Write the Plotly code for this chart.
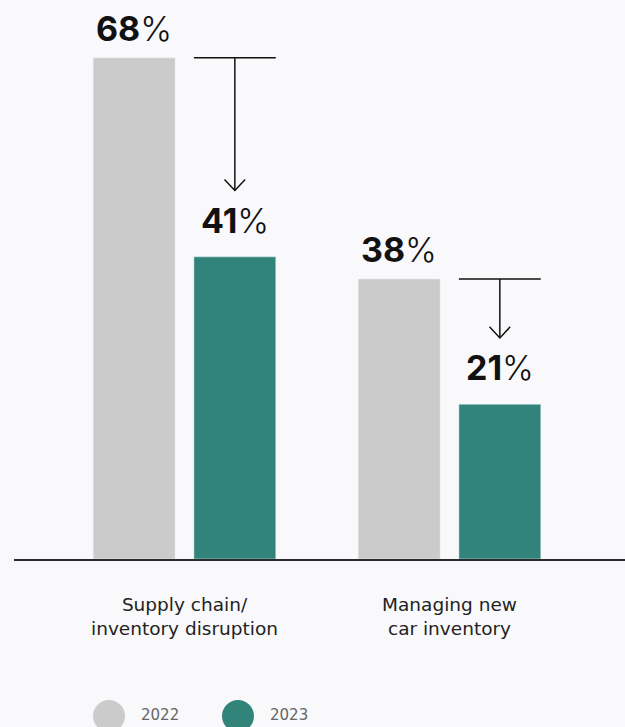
import plotly.graph_objects as go

categories = ["Supply chain/<br>inventory disruption", "Managing new<br>car inventory"]
years = ["2022", "2023"]
values_2022 = [68, 38]
values_2023 = [41, 21]

GRAY = "#cbcbcb"
TEAL = "#32837a"
FONT = "Inter"
LABEL_FONT = "DejaVu Sans"
BARGAP = 0.24
GROUPGAP = 0.187

fig = go.Figure()
fig.add_trace(go.Bar(x=categories, y=values_2022, name=years[0], marker_color=GRAY,
                     showlegend=False, hoverinfo="skip"))
fig.add_trace(go.Bar(x=categories, y=values_2023, name=years[1], marker_color=TEAL,
                     showlegend=False, hoverinfo="skip"))

off = (1 - BARGAP) / 4
hw = (1 - BARGAP) / 2 * (1 - GROUPGAP) / 2

def pct(v):
    return f"<b>{v}</b><span style='font-weight:300'>%</span>"

# value labels
for i, (a, b) in enumerate(zip(values_2022, values_2023)):
    fig.add_annotation(x=i - off, y=a, xref="x", yref="y", text=pct(a),
                       showarrow=False, yanchor="bottom", yshift=7,
                       font=dict(family=FONT, size=34, color="#111111"))
    fig.add_annotation(x=i + off, y=b, xref="x", yref="y", text=pct(b),
                       showarrow=False, yanchor="bottom", yshift=14,
                       font=dict(family=FONT, size=34, color="#111111"))
    # drop arrow
    tip = b + 9
    line = dict(color="#111111", width=1.5)
    fig.add_shape(type="line", xref="x", yref="y", x0=i + off - hw, x1=i + off + hw,
                  y0=a, y1=a, line=line)
    fig.add_shape(type="line", xref="x", yref="y", x0=i + off, x1=i + off,
                  y0=a, y1=tip, line=line)
    dx, dy = 0.039, 1.5
    fig.add_shape(type="path", xref="x", yref="y",
                  path=f"M {i+off-dx},{tip+dy} L {i+off},{tip} L {i+off+dx},{tip+dy}",
                  line=line)

# manual legend
legend_y = -0.2809
for name, color, cx, tx in [(years[0], GRAY, 0.1555, 0.2046), (years[1], TEAL, 0.3666, 0.4157)]:
    fig.add_shape(type="circle", xref="paper", yref="paper", xsizemode="pixel", ysizemode="pixel",
                  xanchor=cx, yanchor=legend_y, x0=-16, x1=16, y0=-16, y1=16,
                  fillcolor=color, line=dict(width=0))
    fig.add_annotation(x=tx, y=legend_y + 0.002, xref="paper", yref="paper", text=name,
                       showarrow=False, xanchor="left", yanchor="middle",
                       font=dict(family=LABEL_FONT, size=15, color="#666666"))

fig.update_layout(
    width=625, height=727,
    margin=dict(l=14, r=0, t=0, b=168),
    paper_bgcolor="#f9f9fb", plot_bgcolor="rgba(0,0,0,0)",
    barmode="group", bargap=BARGAP, bargroupgap=GROUPGAP,
    showlegend=False,
    font=dict(family=FONT),
)
fig.update_xaxes(range=[-0.6434, 1.6623], showline=True, linecolor="#2b2b2b", linewidth=1.5,
                 ticks="", showgrid=False, zeroline=False, ticklabelstandoff=28,
                 tickfont=dict(family=LABEL_FONT, size=18.5, color="#222222"), fixedrange=True)
fig.update_yaxes(range=[0, 75.85], visible=False, showgrid=False, zeroline=False, fixedrange=True)

fig.write_html("out.html")
